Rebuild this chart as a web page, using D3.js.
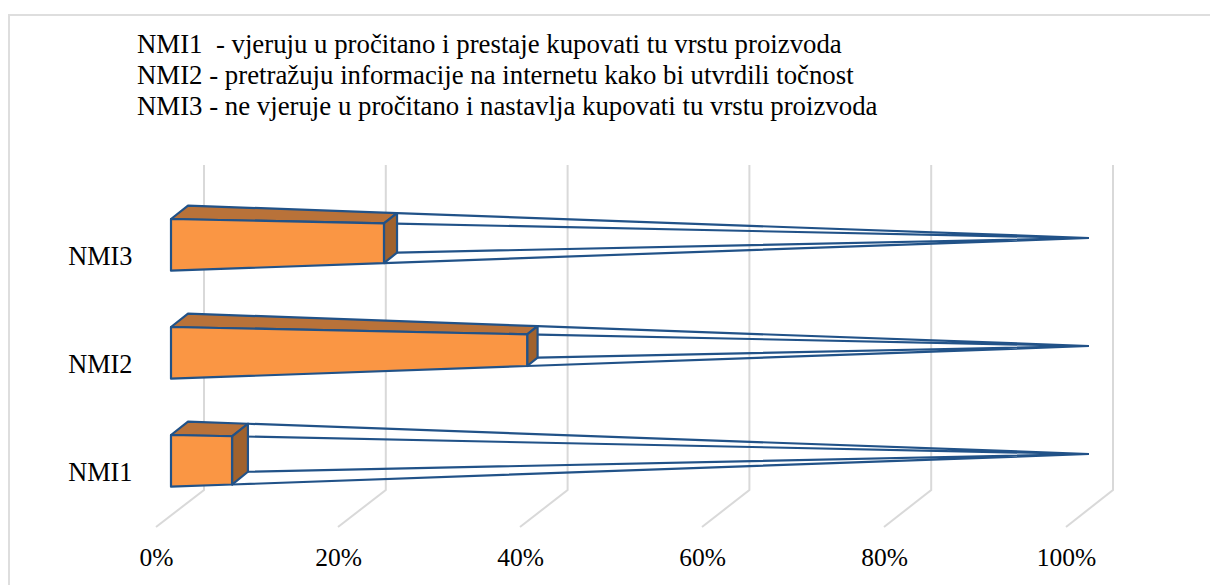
<!DOCTYPE html>
<html>
<head>
<meta charset="utf-8">
<script src="https://cdn.jsdelivr.net/npm/d3@7"></script>
<style>
    html, body { margin: 0; padding: 0; background: #fff; overflow: hidden; }
    text { font-family: "Liberation Serif", serif; fill: #000; }
</style>
</head>
<body>
<svg id="chart" width="1210" height="585"></svg>
<script>
var categories = ['NMI3', 'NMI2', 'NMI1'];
var values = [23.2, 38.8, 6.65];
var ticks = [0, 20, 40, 60, 80, 100];
var notes = [
    'NMI1  - vjeruju u pročitano i prestaje kupovati tu vrstu proizvoda',
    'NMI2 - pretražuju informacije na internetu kako bi utvrdili točnost',
    'NMI3 - ne vjeruje u pročitano i nastavlja kupovati tu vrstu proizvoda'
];

var svg = d3.select('#chart');

// frame of the chart area, bottom is cut off by the picture
svg.append('path')
    .attr('d', 'M9,585V15H1210')
    .attr('fill', 'none')
    .attr('stroke', '#dedede')
    .attr('stroke-width', 2);

svg.selectAll('.note')
    .data(notes)
    .enter()
    .append('text')
    .attr('class', 'note')
    .attr('x', 137)
    .attr('y', function (d, i) { return 53 + i * 31; })
    .style('font-size', '26.8px')
    .style('white-space', 'pre')
    .text(function (d) { return d; });

// the chart is a 3d perspective: floor edge, back wall and bars each get their own x scale
var floorX = d3.scaleLinear().domain([0, 100]).range([156, 1066]);
var wallX = d3.scaleLinear().domain([0, 100]).range([204, 1113]);
var frontX = d3.scaleLinear().domain([0, 100]).range([171, 1089]);
var backX = d3.scaleLinear().domain([0, 100]).range([188, 1089]);

// bars all run to a vanishing point on their own centre line
var yScale = d3.scalePoint().domain(categories).range([238, 454]);
var frontTop = d3.scaleLinear().domain([0, 100]).range([-19, 0]);
var frontBottom = d3.scaleLinear().domain([0, 100]).range([32.7, 0]);
var backTop = d3.scaleLinear().domain([0, 100]).range([-32.4, 0]);
var backBottom = d3.scaleLinear().domain([0, 100]).range([19, 0]);

var wallTop = 165, wallBottom = 490, floorY = 527;

svg.selectAll('.grid')
    .data(ticks)
    .enter()
    .append('path')
    .attr('class', 'grid')
    .attr('fill', 'none')
    .attr('stroke', '#d9d9d9')
    .attr('stroke-width', 2)
    .attr('d', function (d) {
        return d3.line()([[wallX(d), wallTop], [wallX(d), wallBottom], [floorX(d), floorY]]);
    });

var xAxis = svg.append('g')
    .attr('transform', 'translate(0,' + (floorY + 18) + ')')
    .call(d3.axisBottom(floorX).tickValues(ticks).tickSize(0).tickFormat(function (d) { return d + '%'; }));
xAxis.select('.domain').remove();
xAxis.selectAll('text').style('font-size', '25.5px');

var yAxis = svg.append('g')
    .attr('transform', 'translate(135.5,18.5)')
    .call(d3.axisLeft(yScale).tickSize(0));
yAxis.select('.domain').remove();
yAxis.selectAll('text').style('font-size', '26.3px');

var stroke = '#215288';
var rows = categories.map(function (c, i) { return { cat: c, value: values[i] }; });

var bars = svg.selectAll('.bar')
    .data(rows)
    .enter()
    .append('g')
    .attr('class', 'bar')
    .attr('transform', function (d) { return 'translate(0,' + yScale(d.cat) + ')'; })
    .attr('stroke', stroke)
    .attr('stroke-width', 2.2)
    .attr('stroke-linejoin', 'round');

// empty part of the 100% box, just the outline
bars.append('path')
    .attr('fill', 'none')
    .attr('d', function (d) {
        var apex = [frontX(100), 0];
        var v = d.value;
        return d3.line()([[backX(v), backTop(v)], apex]) +
            d3.line()([[frontX(v), frontTop(v)], apex]) +
            d3.line()([[backX(v), backBottom(v)], apex]) +
            d3.line()([[frontX(v), frontBottom(v)], apex]);
    });

// top face
bars.append('path')
    .attr('fill', '#b97239')
    .attr('d', function (d) {
        var v = d.value;
        return d3.line()([[frontX(0), frontTop(0)], [backX(0), backTop(0)],
            [backX(v), backTop(v)], [frontX(v), frontTop(v)]]) + 'Z';
    });

// side face
bars.append('path')
    .attr('fill', '#a0622d')
    .attr('d', function (d) {
        var v = d.value;
        return d3.line()([[frontX(v), frontTop(v)], [backX(v), backTop(v)],
            [backX(v), backBottom(v)], [frontX(v), frontBottom(v)]]) + 'Z';
    });

// front face
bars.append('path')
    .attr('fill', '#fa9644')
    .attr('d', function (d) {
        var v = d.value;
        return d3.line()([[frontX(0), frontTop(0)], [frontX(v), frontTop(v)],
            [frontX(v), frontBottom(v)], [frontX(0), frontBottom(0)]]) + 'Z';
    });
</script>
</body>
</html>
